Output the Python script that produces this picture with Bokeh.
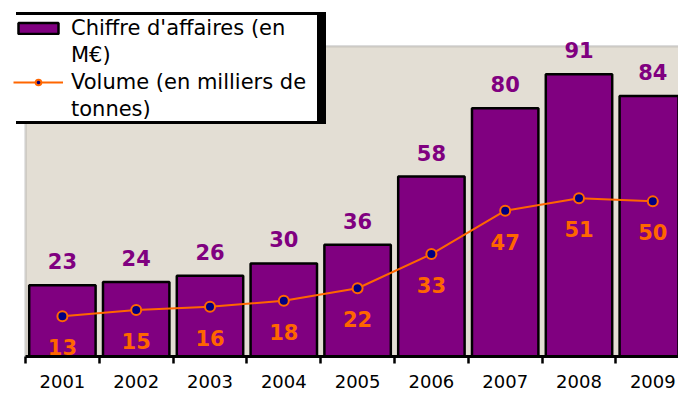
from bokeh.plotting import figure
from bokeh.models import (Range1d, FixedTicker, BoxAnnotation, Legend, LegendItem)
from bokeh.core.properties import value
from bokeh.embed import file_html
from bokeh.resources import INLINE

# ---- data ----
years = [2001, 2002, 2003, 2004, 2005, 2006, 2007, 2008, 2009]
year_labels = ["2001", "2002", "2003", "2004", "2005", "2006", "2007", "2008", "2009"]
sales = [23, 24, 26, 30, 36, 58, 80, 91, 84]          # Chiffre d'affaires (M€)
volume = [13, 15, 16, 18, 22, 33, 47, 51, 50]          # Volume (milliers de tonnes)
legend_labels = ["Chiffre d'affaires (en", "M€)", "Volume (en milliers de", "tonnes)"]
y_max = 100

# ---- layout (pixels) ----
W, H = 678, 390
frame_bottom = 358
plot_top = 46
plot_left = 25
cat_px = 73.8
px_per_unit = (frame_bottom - plot_top) / y_max
x_start = years[0] - 0.5 - plot_left / cat_px
x_end = x_start + W / cat_px
y_end = y_max + plot_top / px_per_unit

PURPLE = "#800080"
ORANGE = "#FF6600"
NAVY = "#000080"
BEIGE = "#E3DED4"
FONT = "DejaVu Sans"

p = figure(width=W, height=H, x_range=Range1d(x_start, x_end), y_range=Range1d(0, y_end),
           output_backend="svg", toolbar_location=None, y_axis_location=None,
           min_border_left=0, min_border_right=0, min_border_top=0, min_border_bottom=H - frame_bottom)
p.xgrid.visible = False
p.ygrid.visible = False
p.outline_line_color = None
p.background_fill_color = "white"
p.border_fill_color = "white"

bounds = [y - 0.5 for y in years] + [years[-1] + 0.5]
plot_area = BoxAnnotation(left=bounds[0], right=bounds[-1] + 0.5, bottom=0, top=y_max,
                          fill_color=BEIGE, fill_alpha=1, line_color="#8C8C8C", line_width=2.5,
                          level="underlay")
p.add_layout(plot_area)

r_bar = p.vbar(x=years, top=sales, width=0.9, fill_color=PURPLE, line_color="black", line_width=2.5)
r_line = p.line(years, volume, line_color=ORANGE, line_width=2)
r_pts = p.scatter(years, volume, size=10, fill_color=NAVY, line_color=ORANGE, line_width=2)
r_blank = p.scatter(x=[], y=[], size=0, fill_alpha=0, line_alpha=0)

p.text(x=years, y=sales, text=[str(v) for v in sales], text_align="center",
       text_baseline="alphabetic", y_offset=-24, text_color=PURPLE,
       text_font=value(FONT), text_font_style="bold", text_font_size="21px")
p.text(x=years, y=volume, text=[str(v) for v in volume], text_align="center",
       text_baseline="alphabetic", y_offset=31, text_color=ORANGE,
       text_font=value(FONT), text_font_style="bold", text_font_size="21px")

ax = p.xaxis[0]
ax.ticker = FixedTicker(ticks=years, minor_ticks=bounds)
ax.major_label_overrides = {y: l for y, l in zip(years, year_labels)}
ax.bounds = (bounds[0], bounds[-1])
ax.axis_line_color = "black"
ax.axis_line_width = 3
ax.major_tick_line_color = None
ax.major_tick_out = 0
ax.major_tick_in = 0
ax.minor_tick_line_color = "black"
ax.minor_tick_line_width = 2.5
ax.minor_tick_out = 7
ax.minor_tick_in = 0
ax.major_label_standoff = 11
ax.major_label_text_font = FONT
ax.major_label_text_font_size = "18px"
ax.major_label_text_color = "black"


def make_items(labels):
    return [LegendItem(label=labels[0], renderers=[r_bar]),
            LegendItem(label=labels[1], renderers=[r_blank]),
            LegendItem(label=labels[2], renderers=[r_line, r_pts]),
            LegendItem(label=labels[3], renderers=[r_blank])]


common = dict(padding=2, spacing=2, glyph_width=50, glyph_height=14, label_standoff=8,
              label_height=25, label_width=246, label_text_font=FONT,
              label_text_font_size="21px", margin=0)
leg_x, leg_y = 13, frame_bottom - 123
shadow = Legend(items=make_items([" "] * 4), location=(leg_x + 3, leg_y - 3),
                background_fill_color="black", background_fill_alpha=1,
                border_line_color="black", label_text_color="black", **common)
legend = Legend(items=make_items(legend_labels), location=(leg_x, leg_y),
                background_fill_color="white", background_fill_alpha=1,
                border_line_color=None, label_text_color="black", **common)
p.add_layout(shadow, "center")
p.add_layout(legend, "center")

open("out.html", "w").write(file_html(p, INLINE))
